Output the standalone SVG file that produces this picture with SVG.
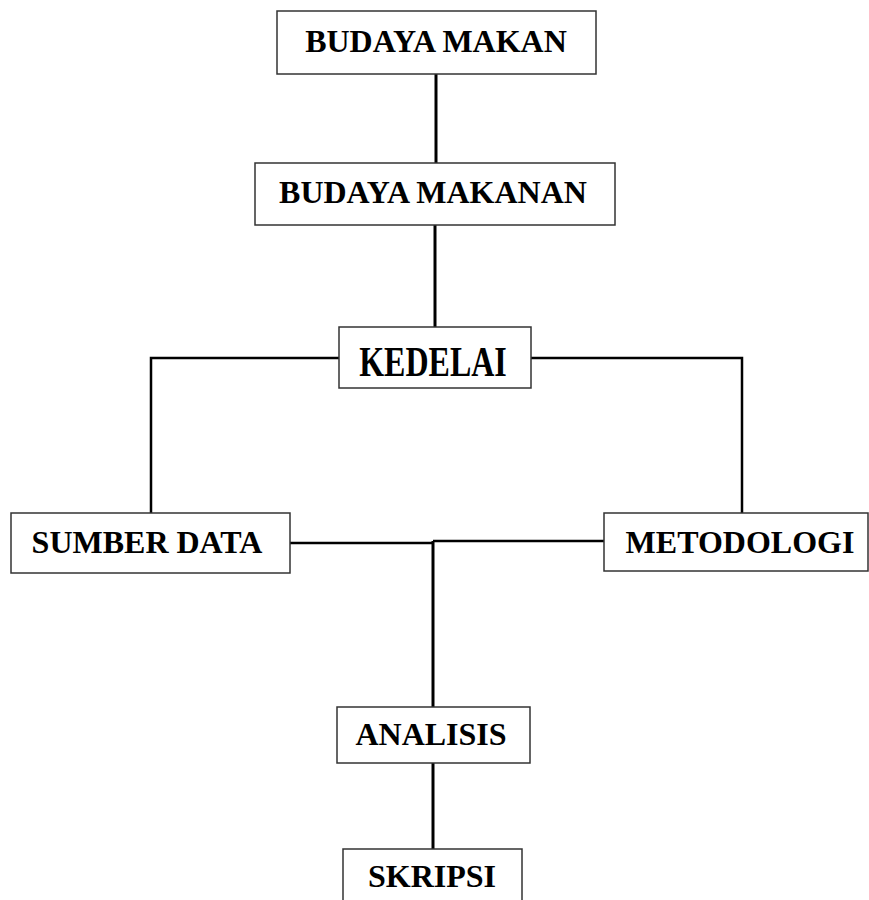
<svg xmlns="http://www.w3.org/2000/svg" width="869" height="900" viewBox="0 0 869 900">
<style>
.box{fill:#fff;stroke:#333;stroke-width:1.5}
.t{font-family:"Liberation Serif","Times New Roman",serif;font-weight:bold;font-size:32px;fill:#000;text-anchor:middle}
.c{fill:none;stroke:#000;stroke-width:3}
.h{fill:none;stroke:#000;stroke-width:2.5}
</style>
<rect width="869" height="900" fill="#fff"/>
<g id="connectors">
<line class="c" x1="436" y1="74" x2="436" y2="163"/>
<line class="c" x1="435" y1="225" x2="435" y2="327"/>
<polyline class="h" points="339,358 151,358 151,513"/>
<polyline class="h" points="531,358 742,358 742,513"/>
<polyline class="h" points="290,543 433,543"/>
<polyline class="h" points="433,541 604,541"/>
<line class="c" x1="433" y1="541" x2="433" y2="707"/>
<line class="c" x1="433" y1="763" x2="433" y2="849"/>
</g>
<g id="budaya-makan">
<rect class="box" x="277" y="11" width="319" height="63"/>
<text class="t" x="436" y="52">BUDAYA MAKAN</text>
</g>
<g id="budaya-makanan">
<rect class="box" x="255" y="163" width="360" height="62"/>
<text class="t" x="433" y="203">BUDAYA MAKANAN</text>
</g>
<g id="kedelai">
<rect class="box" x="339" y="327" width="192" height="61"/>
<text class="t" transform="translate(433,376) scale(1,1.3)">KEDELAI</text>
</g>
<g id="sumber-data">
<rect class="box" x="11" y="513" width="279" height="60"/>
<text class="t" x="147" y="553">SUMBER DATA</text>
</g>
<g id="metodologi">
<rect class="box" x="604" y="513" width="264" height="58"/>
<text class="t" x="740" y="553">METODOLOGI</text>
</g>
<g id="analisis">
<rect class="box" x="337" y="707" width="193" height="56"/>
<text class="t" x="431" y="745">ANALISIS</text>
</g>
<g id="skripsi">
<rect class="box" x="343" y="849" width="179" height="70"/>
<text class="t" x="432" y="887">SKRIPSI</text>
</g>
</svg>
